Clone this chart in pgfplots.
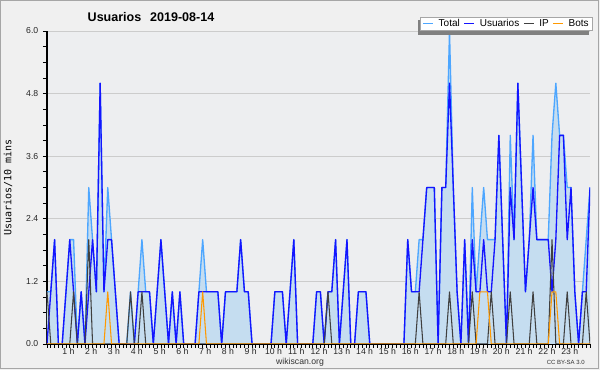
\documentclass[border=0pt]{standalone}
\usepackage{pgfplots}
\pgfplotsset{compat=1.18}
\usepackage{pgfplotstable}
\usepackage{fontspec}
\setmainfont{Liberation Sans}
\newfontfamily\monofont{DejaVu Sans Mono}

\definecolor{bg}{RGB}{240,240,240}
\definecolor{plotbg}{RGB}{237,238,240}
\definecolor{totfill}{RGB}{197,221,240}
\definecolor{totline}{RGB}{77,166,255}
\definecolor{usu}{RGB}{20,20,255}
\definecolor{ipc}{RGB}{64,64,64}
\definecolor{bots}{RGB}{255,153,0}
\definecolor{gridc}{RGB}{204,204,204}

\pgfplotstableread{
i T U IP B
0 1 0 1 0
1 1 1 0 0
2 2 2 0 0
3 0 0 0 0
4 0 0 0 0
5 1 1 0 0
6 2 2 0 0
7 2 1 1 0
8 0 0 0 0
9 1 1 0 0
10 0 0 0 0
11 3 1 2 0
12 2 2 0 0
13 1 1 0 0
14 5 5 0 0
15 1 1 0 0
16 3 2 0 1
17 2 2 0 0
18 1 1 0 0
19 0 0 0 0
20 0 0 0 0
21 0 0 0 0
22 1 0 1 0
23 0 0 0 0
24 1 1 0 0
25 2 1 1 0
26 1 1 0 0
27 1 1 0 0
28 0 0 0 0
29 1 1 0 0
30 2 2 0 0
31 1 1 0 0
32 0 0 0 0
33 1 1 0 0
34 0 0 0 0
35 1 1 0 0
36 0 0 0 0
37 0 0 0 0
38 0 0 0 0
39 0 0 0 0
40 1 1 0 0
41 2 1 0 1
42 1 1 0 0
43 1 1 0 0
44 1 1 0 0
45 1 1 0 0
46 0 0 0 0
47 1 1 0 0
48 1 1 0 0
49 1 1 0 0
50 1 1 0 0
51 2 2 0 0
52 1 1 0 0
53 1 1 0 0
54 0 0 0 0
55 0 0 0 0
56 0 0 0 0
57 0 0 0 0
58 0 0 0 0
59 0 0 0 0
60 1 1 0 0
61 1 1 0 0
62 1 1 0 0
63 0 0 0 0
64 1 1 0 0
65 2 2 0 0
66 0 0 0 0
67 0 0 0 0
68 0 0 0 0
69 0 0 0 0
70 0 0 0 0
71 1 1 0 0
72 1 1 0 0
73 0 0 0 0
74 1 1 1 0
75 1 1 0 0
76 2 2 0 0
77 0 0 0 0
78 1 1 0 0
79 2 2 0 0
80 0 0 0 0
81 0 0 0 0
82 1 1 0 0
83 1 1 0 0
84 1 1 0 0
85 0 0 0 0
86 0 0 0 0
87 0 0 0 0
88 0 0 0 0
89 0 0 0 0
90 0 0 0 0
91 0 0 0 0
92 0 0 0 0
93 0 0 0 0
94 0 0 0 0
95 2 2 0 0
96 1 1 0 0
97 1 1 0 0
98 2 1 1 0
99 2 2 0 0
100 3 3 0 0
101 3 3 0 0
102 3 3 0 0
103 0 0 0 0
104 3 3 0 0
105 3 3 0 0
106 6 5 1 0
107 3 3 0 0
108 1 1 0 0
109 0 0 0 0
110 2 2 0 0
111 0 0 0 0
112 3 2 1 0
113 1 1 0 0
114 2 1 0 1
115 3 2 0 1
116 2 1 0 1
117 2 1 1 0
118 2 2 0 0
119 4 4 0 0
120 2 2 0 0
121 0 0 0 0
122 4 3 1 0
123 2 2 0 0
124 5 5 0 0
125 3 3 0 0
126 1 1 0 0
127 2 2 0 0
128 4 3 1 0
129 2 2 0 0
130 2 2 0 0
131 2 2 0 0
132 2 2 0 0
133 4 1 2 1
134 5 2 0 1
135 4 4 0 0
136 4 4 0 0
137 3 2 1 0
138 3 3 0 0
139 1 1 0 0
140 0 0 0 0
141 1 1 0 0
142 2 1 1 0
143 3 3 0 0
}\datatable

\begin{document}
\begin{tikzpicture}
\useasboundingbox (0,0) rectangle (450pt,277.5pt);
\fill[bg] (0,0) rectangle (450pt,277.5pt);
\draw[black!35, line width=0.75pt] (0.5pt,1.1pt) rectangle (448.7pt,277pt);
\node[font=\bfseries\fontsize{9.4}{10}\selectfont, anchor=center] at (113.25pt,265.1pt) {Usuarios\hspace{4pt} 2019-08-14};
\begin{axis}[
  at={(35.25pt,19.5pt)}, anchor=south west,
  scale only axis, width=407.25pt, height=234.75pt,
  xmin=0, xmax=143, ymin=0, ymax=6,
  clip mode=individual,
  axis background/.style={fill=plotbg},
  axis x line=bottom, axis y line=left,
  x axis line style={-, line width=1.2pt, black},
  y axis line style={-, line width=1pt, black},
  tick align=outside,
  major tick length=3pt, minor tick length=3pt,
  tick style={black, line width=0.6pt},
  xtick={6,12,...,138},
  xticklabels={1 h,2 h,3 h,4 h,5 h,6 h,7 h,8 h,9 h,10 h,11 h,12 h,13 h,14 h,15 h,16 h,17 h,18 h,19 h,20 h,21 h,22 h,23 h},
  minor xtick={0,1,...,143},
  ytick={0,1.2,2.4,3.6,4.8,6},
  yticklabels={0.0,1.2,2.4,3.6,4.8,6.0},
  minor y tick num=3,
  ymajorgrids, major grid style={gridc, line width=0.75pt},
  tick label style={font=\fontsize{6.5}{7}\selectfont, text=black!85},
  xticklabel style={xshift=-1pt, yshift=3.4pt},
  ylabel={Usuarios/10 mins},
  every axis y label/.style={at={(axis description cs:-0.0718,0.5)}, rotate=90, anchor=center, font=\monofont\fontsize{7.5}{8}\selectfont},
  legend style={at={(axis description cs:1.0055,1.0447)}, anchor=north east,
    draw=black!35, fill=white, font=\fontsize{7.5}{8}\selectfont,
    inner xsep=2pt, inner ysep=0.3pt,
    nodes={inner sep=1pt},
    /tikz/every odd column/.append style={column sep=2.5pt},
    /tikz/every even column/.append style={column sep=2pt}},
  legend columns=4,
  legend image code/.code={\draw[#1, line width=1pt] (0pt,0pt) -- (7.5pt,0pt);},
  every axis plot/.append style={line join=round},
]
\addplot[fill=totfill, draw=none, forget plot] table[x=i,y=T]{\datatable} \closedcycle;
\addplot[totline, line width=1pt] table[x=i,y=T]{\datatable};
\addlegendentry{Total}
\addplot[usu, line width=1pt] table[x=i,y=U]{\datatable};
\addlegendentry{Usuarios}
\addplot[ipc, line width=0.8pt] table[x=i,y=IP]{\datatable};
\addlegendentry{IP}
\addplot[bots, line width=0.8pt] table[x=i,y=B]{\datatable};
\addlegendentry{Bots}
% legend box shadow (drawn before the legend, which is placed on top)
\fill[black!50] (axis description cs:0.6835,1.0350) rectangle (axis description cs:0.9975,0.9860);
\end{axis}
\node[font=\fontsize{6.5}{7}\selectfont, text=black!80] at (225pt,5.5pt) {wikiscan.org};
\node[font=\fontsize{4.5}{5}\selectfont, text=black!80, anchor=east] at (442pt,5.5pt) {CC BY-SA 3.0};
\end{tikzpicture}
\end{document}
